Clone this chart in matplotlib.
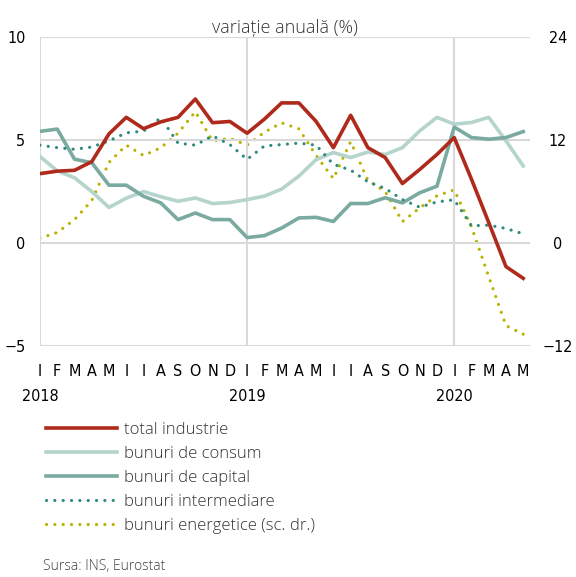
import matplotlib
matplotlib.use("Agg")
import matplotlib.pyplot as plt
from matplotlib.lines import Line2D

months = ["I", "F", "M", "A", "M", "I", "I", "A", "S", "O", "N", "D"] * 2 + ["I", "F", "M", "A", "M"]
year_pos = [0, 12, 24]
year_labels = ["2018", "2019", "2020"]

total_industrie = [3.37, 3.49, 3.53, 3.95, 5.3, 6.1, 5.55, 5.88, 6.1, 6.99, 5.84, 5.9, 5.33,
                   6.01, 6.8, 6.8, 5.9, 4.63, 6.2, 4.63, 4.15, 2.89, 3.57, 4.3, 5.12,
                   3.1, 1.0, -1.14, -1.71]
bunuri_consum = [4.2, 3.5, 3.17, 2.5, 1.73, 2.18, 2.5, 2.25, 2.03, 2.19, 1.92, 1.97, 2.11,
                 2.28, 2.62, 3.25, 4.05, 4.39, 4.15, 4.42, 4.3, 4.63, 5.44, 6.1, 5.77,
                 5.85, 6.1, 4.96, 3.74]
bunuri_capital = [5.42, 5.53, 4.07, 3.9, 2.81, 2.81, 2.27, 1.95, 1.14, 1.46, 1.14, 1.14, 0.27,
                  0.36, 0.73, 1.22, 1.25, 1.05, 1.92, 1.92, 2.2, 1.95, 2.44, 2.76, 5.63,
                  5.12, 5.04, 5.12, 5.41]
bunuri_intermediare = [4.75, 4.63, 4.55, 4.66, 4.96, 5.35, 5.43, 6.08, 4.85, 4.75, 5.2, 4.78, 4.06,
                       4.71, 4.78, 4.85, 4.75, 3.82, 3.54, 2.97, 2.65, 2.11, 1.74, 2.0, 2.1,
                       0.84, 0.87, 0.71, 0.45]
# right axis (sc. dr.)
bunuri_energetice = [0.56, 1.24, 2.73, 4.95, 9.4, 11.4, 10.2, 11.1, 12.8, 15.3, 11.9, 12.2, 11.4,
                     12.9, 14.0, 13.3, 10.2, 7.5, 11.8, 7.3, 6.0, 2.5, 4.1, 5.5, 6.2,
                     1.9, -3.9, -9.6, -10.6]

c_total = "#b02a1c"
c_consum = "#b5d4cc"
c_capital = "#7aaaa0"
c_interm = "#2e8a7f"
c_energ = "#b7b300"

tick_font = dict(family="DejaVu Sans", stretch="condensed", size=11.5)
text_font = {"family": ["Open Sans", "DejaVu Sans"], "size": 12, "weight": "light"}

fig = plt.figure(figsize=(5.76, 5.77), dpi=100)
ax = fig.add_axes([0.0694, 0.400, 0.851, 0.536])
ax2 = ax.twinx()
ax.set_zorder(ax2.get_zorder() + 1)
ax.patch.set_visible(False)

x = list(range(len(months)))
dot = (0, (0.01, 2.6))

ax2.plot(x, bunuri_energetice, color=c_energ, lw=2.3, ls=dot, dash_capstyle="round")
ax.plot(x, bunuri_consum, color=c_consum, lw=2.6)
ax.plot(x, bunuri_capital, color=c_capital, lw=2.6)
ax.plot(x, bunuri_intermediare, color=c_interm, lw=2.3, ls=dot, dash_capstyle="round")
ax.plot(x, total_industrie, color=c_total, lw=2.6)

ax.set_xlim(0, 28.4)
ax.set_ylim(-5, 10)
ax2.set_ylim(-12, 24)
ax.set_yticks([-5, 0, 5, 10])
ax2.set_yticks([-12, 0, 12, 24])

for a in (ax, ax2):
    for s in a.spines.values():
        s.set_visible(False)
    a.tick_params(length=0, which="both")

ax.grid(axis="y", color="#d9d9d9", lw=1.5)
for i in year_pos:
    ax.axvline(i, color="#d9d9d9", lw=1.5, zorder=0)

ax.xaxis.remove_overlapping_locs = False
ax.set_xticks(x)
ax.set_xticklabels(months, **tick_font)
ax.set_xticks(year_pos, minor=True)
ax.set_xticklabels(year_labels, minor=True, **tick_font)
ax.tick_params(axis="x", which="major", pad=12.5)
ax.tick_params(axis="x", which="minor", pad=31)
for lab in ax.get_yticklabels():
    lab.set(**tick_font)
for lab in ax2.get_yticklabels():
    lab.set(**tick_font)
    lab.set_horizontalalignment("center")
ax.tick_params(axis="y", pad=10.5)
ax2.tick_params(axis="y", pad=20)

ax.set_title("variație anuală (%)", family=["Open Sans", "DejaVu Sans"], weight="light",
             fontsize=13, color="#333333", pad=1)

handles = [
    Line2D([], [], color=c_total, lw=2.6),
    Line2D([], [], color=c_consum, lw=2.6),
    Line2D([], [], color=c_capital, lw=2.6),
    Line2D([], [], color=c_interm, lw=2.3, ls=dot, dash_capstyle="round"),
    Line2D([], [], color=c_energ, lw=2.3, ls=dot, dash_capstyle="round"),
]
names = ["total industrie", "bunuri de consum", "bunuri de capital",
         "bunuri intermediare", "bunuri energetice (sc. dr.)"]
fig.legend(handles, names, loc="upper left", bbox_to_anchor=(0.065, 0.283),
           frameon=False, borderpad=0, handlelength=4.3, handletextpad=0.4,
           labelspacing=0.48, prop=text_font, labelcolor="#333333")

fig.text(0.075, 0.012, "Sursa: INS, Eurostat", family=["Open Sans", "DejaVu Sans"],
         weight="light", fontsize=10, color="#404040")

fig.savefig("out.png", dpi=100)
